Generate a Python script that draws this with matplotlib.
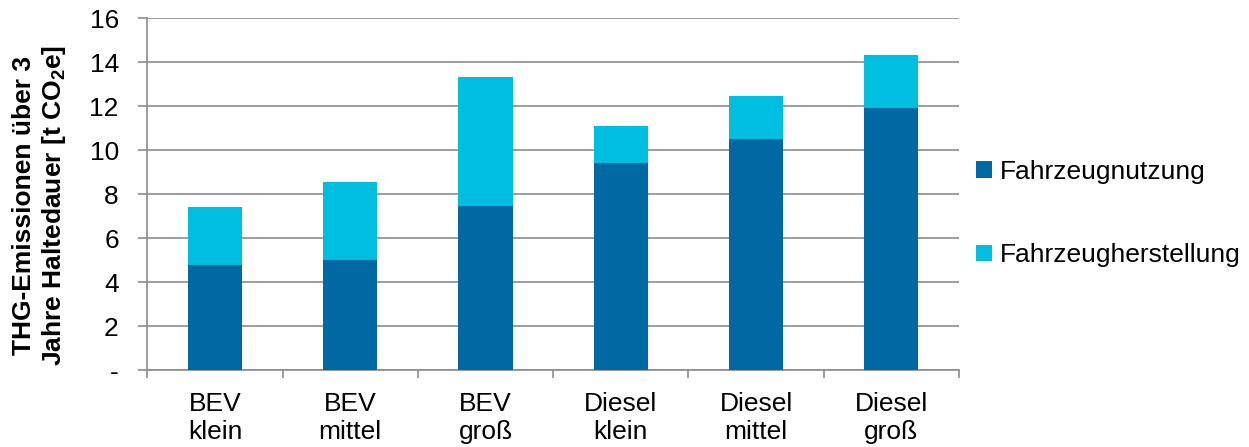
import matplotlib
matplotlib.use("Agg")
import matplotlib.pyplot as plt
import numpy as np

categories = ["BEV\nklein", "BEV\nmittel", "BEV\ngroß", "Diesel\nklein", "Diesel\nmittel", "Diesel\ngroß"]
nutzung = [4.76, 5.02, 7.47, 9.41, 10.53, 11.93]
herstellung = [2.65, 3.55, 5.85, 1.70, 1.92, 2.41]
series_names = ["Fahrzeugnutzung", "Fahrzeugherstellung"]
yticks = [0, 2, 4, 6, 8, 10, 12, 14, 16]
ytick_labels = ["-", "2", "4", "6", "8", "10", "12", "14", "16"]

plt.rcParams['font.family'] = ['Liberation Sans', 'DejaVu Sans']
plt.rcParams['mathtext.fontset'] = 'custom'
plt.rcParams['mathtext.rm'] = 'Liberation Sans'
plt.rcParams['mathtext.bf'] = 'Liberation Sans:bold'

dark = '#0069A3'
light = '#00BEE0'
grid_c = '#8C8C8C'
fs = 19

fig = plt.figure(figsize=(12.49, 4.47), dpi=100)
ax = fig.add_axes([147.3/1249, 1-370/447, (959-147.3)/1249, (370-18.3)/447])

x = np.arange(len(categories))
b1 = ax.bar(x, nutzung, width=0.4, color=dark, label=series_names[0], zorder=3)
b2 = ax.bar(x, herstellung, bottom=nutzung, width=0.4, color=light, label=series_names[1], zorder=3)

ax.set_xlim(-0.5, len(categories) - 0.5)
ax.set_ylim(0, 16)
ax.set_yticks(yticks)
ax.set_yticklabels(ytick_labels, fontsize=fs)
ax.yaxis.grid(True, color=grid_c, linewidth=1.2, zorder=0)
ax.set_axisbelow(True)

ax.set_xticks(x)
ax.set_xticklabels(categories, fontsize=fs, linespacing=1.2)
ax.tick_params(axis='x', which='major', length=0, pad=16)
ax.set_xticks(np.arange(-0.5, len(categories)), minor=True)
ax.tick_params(axis='x', which='minor', length=6, color=grid_c, width=1.2, direction='out')
ax.tick_params(axis='y', length=6.5, color=grid_c, width=1.2, pad=14, direction='out')

for s in ['top', 'right']:
    ax.spines[s].set_visible(False)
for s in ['left', 'bottom']:
    ax.spines[s].set_color(grid_c)
    ax.spines[s].set_linewidth(1.2)

fig.text(0.0318, (447-205)/447, "THG-Emissionen über 3\nJahre Haltedauer [t CO$_\\mathbf{2}$e]",
         rotation=90, ha='center', va='center', fontsize=fs, fontweight='bold', linespacing=1.2)

leg = fig.legend(handles=[b1, b2], labels=series_names, loc='upper left',
                 bbox_to_anchor=(976/1249, 1-160/447), frameon=False, fontsize=fs,
                 handlelength=0.6, handleheight=0.6, handletextpad=0.3, labelspacing=2.25,
                 borderaxespad=0, borderpad=0)

fig.savefig("out.png", dpi=100)
